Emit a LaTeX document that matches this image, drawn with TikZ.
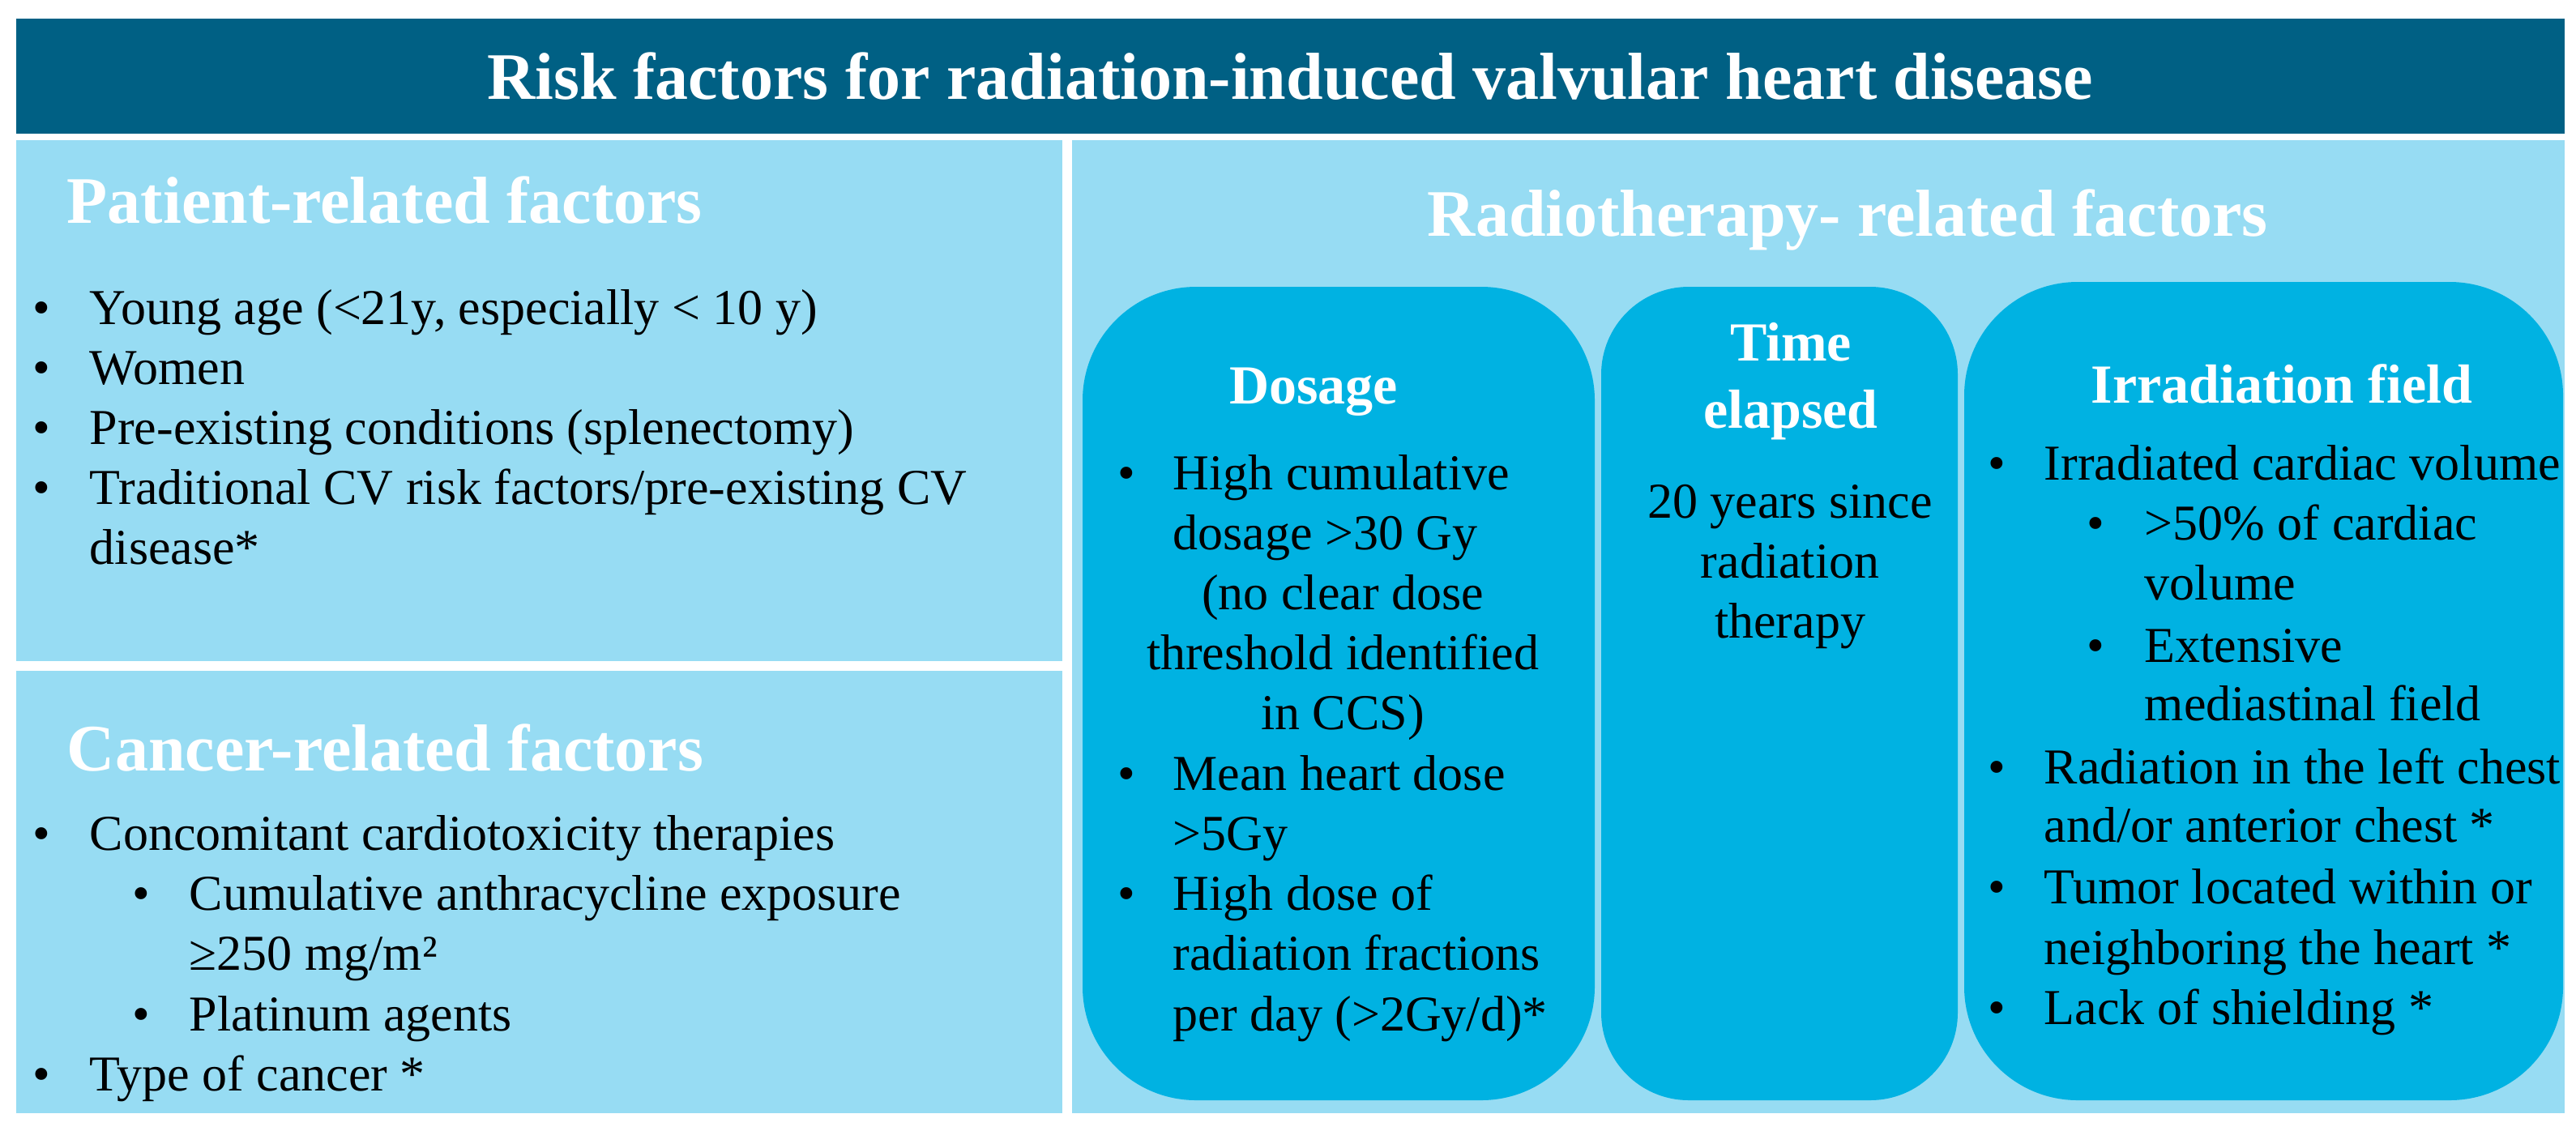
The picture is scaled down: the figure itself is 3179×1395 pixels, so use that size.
\documentclass[tikz,border=0pt]{standalone}
\usepackage{fontspec}
\setmainfont{Liberation Serif}
\definecolor{titlebg}{RGB}{0,96,132}
\definecolor{panelbg}{RGB}{151,220,243}
\definecolor{boxbg}{RGB}{0,178,226}
\begin{document}
\begin{tikzpicture}[x=0.25pt,y=-0.25pt,
  body/.style={anchor=base west,inner sep=0pt,font=\fontsize{15.5}{18.5}\selectfont},
  cbody/.style={body,anchor=base},
  head/.style={anchor=base west,inner sep=0pt,text=white,font=\fontsize{20.5}{24}\selectfont\bfseries},
  boxhead/.style={anchor=base,inner sep=0pt,text=white,font=\fontsize{17}{20}\selectfont\bfseries},
  panel/.style={fill=panelbg},
  rbox/.style={fill=boxbg}]
\useasboundingbox[fill=white] (0,0) rectangle (3179,1395);
% title bar
\fill[titlebg] (20,23) rectangle (3165,165);
\node[anchor=base,inner sep=0pt,text=white,font=\fontsize{20.5}{24}\selectfont\bfseries] (title) at (1592,122) {Risk factors for radiation-induced valvular heart disease};
% panels
\fill[panel] (20,173) rectangle (1311,816);
\fill[panel] (20,828) rectangle (1311,1374);
\fill[panel] (1323,173) rectangle (3165,1374);
% rounded boxes
\fill[rbox,rounded corners=35pt] (1336,354) rectangle (1968,1358);
\fill[rbox,rounded corners=27pt] (1976,354) rectangle (2416,1358);
\fill[rbox,rounded corners=35pt] (2424,348) rectangle (3163,1358);
% patient
\node[head] (ph) at (82,275) {Patient-related factors};
\node[body] (pb1) at (40,400) {•}; \node[body] (pt1) at (110,400) {Young age (<21y, especially < 10 y)};
\node[body] (pb2) at (40,474) {•}; \node[body] (pt2) at (110,474) {Women};
\node[body] (pb3) at (40,548) {•}; \node[body] (pt3) at (110,548) {Pre-existing conditions (splenectomy)};
\node[body] (pb4) at (40,622) {•}; \node[body] (pt4) at (110,622) {Traditional CV risk factors/pre-existing CV};
\node[body] (pt5) at (110,696) {disease*};
% cancer
\node[head] (ch) at (82,951) {Cancer-related factors};
\node[body] (cb1) at (40,1049) {•}; \node[body] (ct1) at (110,1049) {Concomitant cardiotoxicity therapies};
\node[body] (cb2) at (163,1123) {•}; \node[body] (ct2) at (233,1123) {Cumulative anthracycline exposure};
\node[body] (ct3) at (233,1197) {≥250 mg/m²};
\node[body] (cb4) at (163,1272) {•}; \node[body] (ct4) at (233,1272) {Platinum agents};
\node[body] (cb5) at (40,1346) {•}; \node[body] (ct5) at (110,1346) {Type of cancer *};
% radiotherapy
\node[head] (rh) at (1761,291) {Radiotherapy- related factors};
% dosage
\node[boxhead] (dh) at (1621,498) {Dosage};
\node[body] (db1) at (1379,604) {•}; \node[body] (dt1) at (1447,604) {High cumulative};
\node[body] (dt2) at (1447,678) {dosage >30 Gy};
\node[cbody] (dt3) at (1657,752) {(no clear dose};
\node[cbody] (dt4) at (1657,826) {threshold identified};
\node[cbody] (dt5) at (1657,900) {in CCS)};
\node[body] (db6) at (1379,975) {•}; \node[body] (dt6) at (1447,975) {Mean heart dose};
\node[body] (dt7) at (1447,1049) {>5Gy};
\node[body] (db8) at (1379,1123) {•}; \node[body] (dt8) at (1447,1123) {High dose of};
\node[body] (dt9) at (1447,1197) {radiation fractions};
\node[body] (dt10) at (1447,1272) {per day (>2Gy/d)*};
% time
\node[boxhead] (th1) at (2210,445) {Time};
\node[boxhead] (th2) at (2210,528) {elapsed};
\node[cbody] (tt1) at (2209,639) {20 years since};
\node[cbody] (tt2) at (2209,713) {radiation};
\node[cbody] (tt3) at (2209,787) {therapy};
% irradiation field
\node[boxhead] (ih) at (2816,497) {Irradiation field};
\node[body] (ib1) at (2453,592) {•}; \node[body] (it1) at (2522,592) {Irradiated cardiac volume};
\node[body] (ib2) at (2575,666) {•}; \node[body] (it2) at (2646,666) {>50\% of cardiac};
\node[body] (it3) at (2646,740) {volume};
\node[body] (ib4) at (2575,817) {•}; \node[body] (it4) at (2646,817) {Extensive};
\node[body] (it5) at (2646,889) {mediastinal field};
\node[body] (ib6) at (2453,967) {•}; \node[body] (it6) at (2522,967) {Radiation in the left chest};
\node[body] (it7) at (2522,1039) {and/or anterior chest *};
\node[body] (ib8) at (2453,1115) {•}; \node[body] (it8) at (2522,1115) {Tumor located within or};
\node[body] (it9) at (2522,1190) {neighboring the heart *};
\node[body] (ib10) at (2453,1264) {•}; \node[body] (it10) at (2522,1264) {Lack of shielding *};
\end{tikzpicture}
\end{document}
